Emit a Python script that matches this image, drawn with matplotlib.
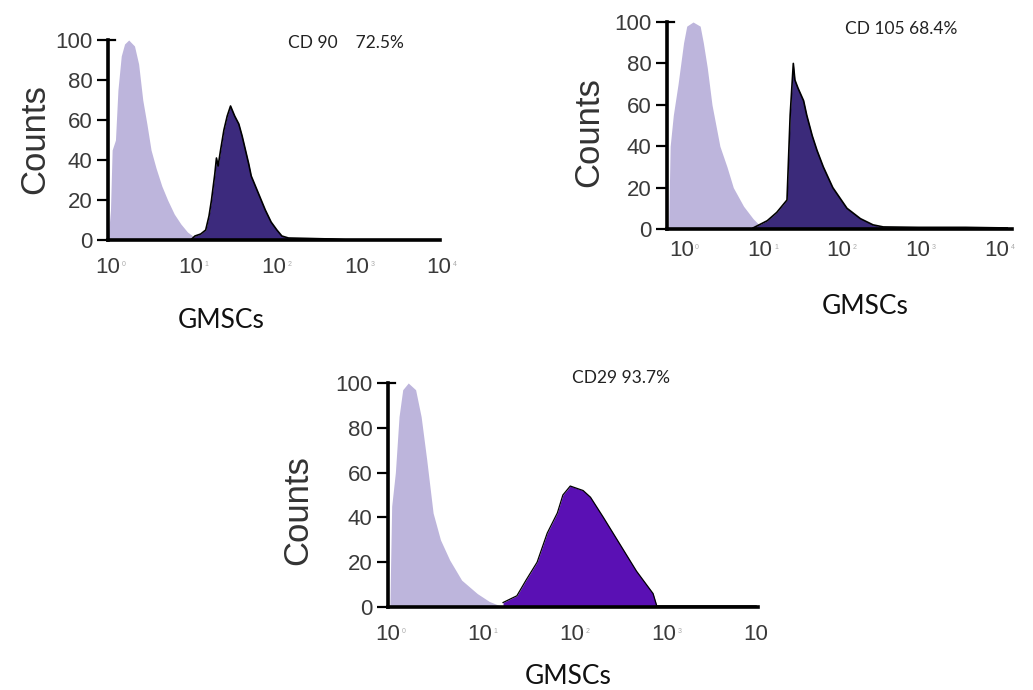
import numpy as np
import matplotlib
matplotlib.use("Agg")
import matplotlib.pyplot as plt

# ---- data (x in log10 decades, y in counts) ----
# panel 1 : CD 90
cd90_iso_x = [0.00, 0.03, 0.05, 0.09, 0.12, 0.16, 0.20, 0.25, 0.32, 0.37, 0.42, 0.47,
              0.52, 0.58, 0.65, 0.72, 0.80, 0.88, 0.96, 1.04, 1.10]
cd90_iso_y = [0, 15, 45, 50, 75, 92, 98, 100, 97, 88, 70, 58,
              45, 36, 27, 20, 13, 8, 4, 1.5, 0]
cd90_x = [1.00, 1.05, 1.12, 1.18, 1.22, 1.25, 1.29, 1.31, 1.33, 1.36, 1.40, 1.44, 1.48,
          1.53, 1.58, 1.62, 1.66, 1.70, 1.73, 1.78, 1.83, 1.90, 1.97, 2.04, 2.10,
          2.18, 2.40, 2.70, 2.90]
cd90_y = [0, 2, 3, 5, 12, 20, 33, 41, 37, 45, 55, 62, 67,
          62, 58, 52, 45, 38, 32, 27, 22, 15, 9, 5, 2,
          1, 0.8, 0.5, 0]

# panel 2 : CD 105
cd105_iso_x = [-0.16, -0.14, -0.10, -0.04, 0.03, 0.07, 0.15, 0.24, 0.28, 0.33, 0.39,
               0.49, 0.58, 0.66, 0.79, 0.91, 1.04]
cd105_iso_y = [0, 40, 55, 70, 90, 98, 100, 98, 90, 78, 60,
               40, 30, 20, 11, 5, 0]
cd105_x = [0.91, 1.09, 1.21, 1.34, 1.38, 1.42, 1.44, 1.48, 1.55, 1.59, 1.66, 1.72,
           1.80, 1.92, 2.10, 2.27, 2.43, 2.56, 3.00, 3.60, 4.13]
cd105_y = [0.5, 4, 8, 14, 55, 80, 72, 68, 62, 55, 45, 38,
           30, 20, 10, 5, 2, 1, 0.8, 0.8, 0.5]

# panel 3 : CD29
cd29_iso_x = [0.02, 0.04, 0.08, 0.12, 0.16, 0.22, 0.30, 0.36, 0.42, 0.49, 0.57,
              0.67, 0.80, 0.97, 1.10, 1.25]
cd29_iso_y = [0, 45, 60, 85, 97, 100, 97, 85, 66, 42, 30,
              21, 12, 6, 2.5, 0]
cd29_x = [1.25, 1.40, 1.50, 1.62, 1.73, 1.84, 1.90, 1.98, 2.05, 2.12, 2.20, 2.34,
          2.52, 2.70, 2.88, 2.92, 3.40, 4.00]
cd29_y = [2, 5, 12, 20, 33, 42, 50, 54, 53, 52, 49, 40,
          28, 16, 6, 0.5, 0.5, 0.5]

titles = ["CD 90    72.5%", "CD 105 68.4%", "CD29 93.7%"]
xlabel = "GMSCs"
ylabel = "Counts"
ytick_vals = [0, 20, 40, 60, 80, 100]
decades = [0, 1, 2, 3, 4]

W, H = 1033, 690
light = "#bdb5dc"


def fx(x):
    return x / W


def fy(y):
    return 1 - y / H


def panel(fig, left, right, y0, y100, xlim, iso_x, iso_y, pos_x, pos_y,
          pos_color, edge_lw, xpad, last_exp=True):
    height = (y0 - y100) * 1.02
    ax = fig.add_axes([fx(left), fy(y0), (right - left) / W, height / H])
    ax.fill_between(iso_x, iso_y, color=light, lw=0, zorder=1)
    ax.fill_between(pos_x, pos_y, color=pos_color, lw=0, zorder=2)
    ax.plot(pos_x, pos_y, color="black", lw=edge_lw, zorder=3)
    ax.set_xlim(*xlim)
    ax.set_ylim(0, 102)
    for s in ["top", "right"]:
        ax.spines[s].set_visible(False)
    for s in ["left", "bottom"]:
        ax.spines[s].set_linewidth(2.6)
        ax.spines[s].set_zorder(5)
    ax.spines["left"].set_bounds(0, 100)
    ax.set_yticks(ytick_vals)
    ax.set_yticklabels([str(v) for v in ytick_vals])
    ax.tick_params(axis="y", direction="out", length=8, width=1.6, pad=3,
                   labelsize=16, labelcolor="#3a3a3a")
    ax.set_xticks(decades)
    ax.set_xticklabels(["10"] * len(decades))
    ax.tick_params(axis="x", length=0, pad=xpad, labelsize=16, labelcolor="#3a3a3a")
    # little top mark on the y axis
    ax.plot([xlim[0], xlim[0] + 0.08 * (xlim[1] - xlim[0]) / 4], [100, 100],
            color="black", lw=1.6, clip_on=False, zorder=5)
    # faint tiny exponents next to the "10"
    for i, d in enumerate(decades):
        if i == len(decades) - 1 and not last_exp:
            continue
        ax.annotate(str(d), xy=(d, 0), xycoords=("data", "axes fraction"),
                    xytext=(10, -xpad - 3), textcoords="offset points",
                    fontsize=5, color="#aaaaaa", ha="left", va="top",
                    annotation_clip=False)
    return ax


def main():
    plt.rcParams["font.family"] = ["Liberation Sans", "DejaVu Sans"]
    fig = plt.figure(figsize=(W / 100, H / 100), dpi=100)

    panel(fig, 108, 440, 240, 40, (0, 4.01), cd90_iso_x, cd90_iso_y,
          cd90_x, cd90_y, "#3c2a7d", 1.2, 12)
    panel(fig, 667, 1012, 229, 22, (-0.18, 4.19), cd105_iso_x, cd105_iso_y,
          cd105_x, cd105_y, "#3b2a7a", 1.2, 8)
    panel(fig, 388, 758, 607, 383, (0, 4.02), cd29_iso_x, cd29_iso_y,
          cd29_x, cd29_y, "#5a10b4", 0.9, 12, last_exp=False)

    # y labels
    for (x, y) in [(35, 139), (589, 132), (298, 510)]:
        fig.text(fx(x), fy(y), ylabel, rotation=90, ha="center", va="center",
                 fontsize=25, color="#333333")

    # annotations
    ann = "Lato"
    fig.text(fx(288), fy(43), titles[0], ha="left", va="center",
             fontsize=12.5, family=ann, color="#222222")
    fig.text(fx(845), fy(29), titles[1], ha="left", va="center",
             fontsize=12.5, family=ann, color="#222222")
    fig.text(fx(572), fy(378), titles[2], ha="left", va="center",
             fontsize=12.5, family=ann, color="#222222")

    # x labels
    for (x, y) in [(221, 320), (865, 307), (568, 677)]:
        fig.text(fx(x), fy(y), xlabel, ha="center", va="center",
                 fontsize=19, family=ann, color="#111111")

    plt.savefig("out.png", dpi=100)


if __name__ == "__main__":
    main()
